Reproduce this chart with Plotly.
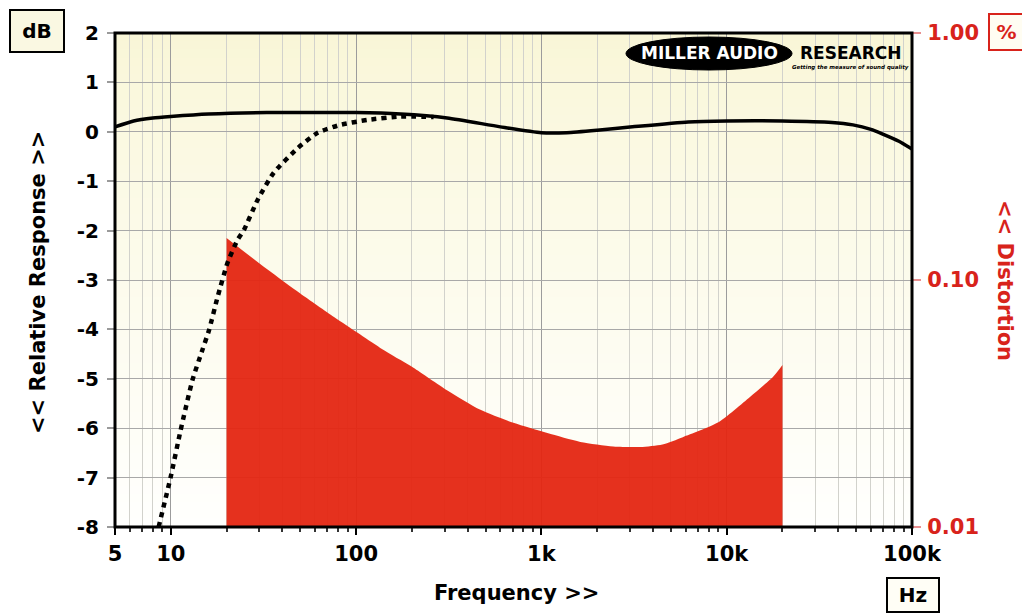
import plotly.graph_objects as go

# ---------------- data ----------------
# Frequency response (solid)
freq_resp = [5, 6.3, 8, 10, 16, 33, 60, 100, 174, 310, 600, 1000, 1370, 2000,
             3100, 6200, 10000, 20000, 37000, 48000, 60000, 69000, 85000, 100000]
resp_db = [0.10, 0.22, 0.28, 0.31, 0.36, 0.39, 0.39, 0.39, 0.36, 0.28, 0.10, -0.02,
           -0.02, 0.03, 0.10, 0.20, 0.22, 0.22, 0.19, 0.14, 0.05, -0.04, -0.19, -0.35]

# Response with subsonic filter (dotted)
freq_hp = [8.6, 10, 11.3, 13.1, 14.8, 16.1, 17.9, 20.2, 22.9, 24.8, 29.4, 35.9,
           48.4, 62, 82, 115, 174, 262]
hp_db = [-8.0, -6.98, -6.04, -5.02, -4.42, -4.01, -3.34, -2.66, -2.19, -1.99,
         -1.38, -0.83, -0.33, -0.02, 0.14, 0.24, 0.31, 0.30]

# Distortion (%), red area
freq_thd = [20, 33, 50, 76, 102, 135, 174, 204, 311, 469, 706, 1077, 1622, 2444,
            3420, 4500, 5800, 8900, 13400, 17800, 20000]
thd_pct = [0.148, 0.1107, 0.0881, 0.0708, 0.0611, 0.0531, 0.0474, 0.0441, 0.0357,
           0.0298, 0.0264, 0.0240, 0.0221, 0.0212, 0.0211, 0.0216, 0.0231, 0.0264,
           0.0337, 0.0406, 0.0453]
thd_floor = 0.01

# Axis ticks
x_major = [5, 10, 100, 1000, 10000, 100000]
x_major_text = ["5", "10", "100", "1k", "10k", "100k"]
db_ticks = [2, 1, 0, -1, -2, -3, -4, -5, -6, -7, -8]
pct_ticks = [0.01, 0.1, 1.0]
pct_text = ["0.01", "0.10", "1.00"]

x_minor = [m * 10 ** d for d in range(0, 5) for m in range(2, 10)
           if 5 < m * 10 ** d < 100000 and m * 10 ** d not in x_major]

FONT = "DejaVu Sans"
RED = "#D8231B"
FILL = "rgba(228,38,18,0.95)"

fig = go.Figure()

# Distortion area (primary y, log, right side): baseline + curve filled between
fig.add_trace(go.Scatter(
    x=[freq_thd[0], freq_thd[-1]], y=[thd_floor, thd_floor], mode="lines",
    line=dict(width=0, color="rgba(0,0,0,0)"), hoverinfo="skip",
    showlegend=False, xaxis="x", yaxis="y"))
fig.add_trace(go.Scatter(
    x=freq_thd, y=thd_pct, fill="tonexty", fillcolor=FILL, mode="lines",
    line=dict(width=0, color=FILL, shape="spline", smoothing=0.7),
    hoverinfo="skip", showlegend=False, xaxis="x", yaxis="y"))

# Dotted response
fig.add_trace(go.Scatter(
    x=freq_hp, y=hp_db, mode="lines",
    line=dict(color="black", width=4.5, dash="5px,5px", shape="spline", smoothing=0.5),
    showlegend=False, xaxis="x", yaxis="y2"))

# Solid response
fig.add_trace(go.Scatter(
    x=freq_resp, y=resp_db, mode="lines",
    line=dict(color="black", width=3.5, shape="spline", smoothing=0.6),
    showlegend=False, xaxis="x", yaxis="y2"))

# ---------------- background gradient ----------------
shapes = []
n = 60
top = (249, 246, 214)
bot = (255, 255, 253)
for i in range(n):
    t = (i + 0.5) / n
    tt = t ** 0.8
    c = tuple(round(top[k] + (bot[k] - top[k]) * tt) for k in range(3))
    shapes.append(dict(type="rect", xref="x domain", yref="y domain",
                       x0=0, x1=1, y0=1 - i / n, y1=1 - (i + 1) / n - 0.002,
                       fillcolor="rgb(%d,%d,%d)" % c, line=dict(width=0),
                       layer="below"))

# frame
shapes.append(dict(type="rect", xref="x domain", yref="y domain", x0=0, x1=1,
                   y0=0, y1=1, line=dict(color="black", width=3),
                   fillcolor="rgba(0,0,0,0)", layer="above"))


def px(xp):
    return (xp - 115) / 797


def py(yp):
    return (527 - yp) / 494


# logo ellipse
shapes.append(dict(type="circle", xref="paper", yref="paper",
                   x0=px(626), x1=px(792), y0=py(70), y1=py(37),
                   fillcolor="black", line=dict(color="black", width=1),
                   layer="above"))


def ann(text, x, y, size, color, **kw):
    d = dict(text=text, x=px(x), y=py(y), xref="paper", yref="paper",
             showarrow=False, xanchor="center", yanchor="middle",
             font=dict(family=FONT, size=size, color=color, weight="bold"))
    d.update(kw)
    return d


annotations = [
    ann("dB", 37, 31, 20, "black", bordercolor="black", borderwidth=2,
        bgcolor="#FAF8E2", width=50, height=38),
    ann("%", 1007, 32, 20, RED, bordercolor=RED, borderwidth=2,
        bgcolor="#FFFDF2", width=31, height=32),
    ann("Hz", 913, 595, 20, "black", bordercolor="black", borderwidth=2,
        bgcolor="#FFFEF6", width=48, height=30),
    ann("<< Relative Response >>", 38, 283, 21, "black", textangle=-90),
    ann("<< Distortion", 1005, 280, 21, RED, textangle=90),
    ann("Frequency >>", 517, 593, 21, "black"),
    ann("MILLER AUDIO", 709, 53, 17, "white"),
    ann("RESEARCH", 851, 53, 17, "black"),
    ann("<i>Getting the measure of sound quality</i>", 850, 68, 5.5, "black"),
]

fig.update_layout(
    width=1022, height=605,
    margin=dict(l=107, r=118, t=25, b=86, autoexpand=False),
    paper_bgcolor="white", plot_bgcolor="white",
    shapes=shapes, annotations=annotations,
    showlegend=False,
    xaxis=dict(
        type="log", range=[0.69897, 5], tickmode="array",
        tickvals=x_major, ticktext=x_major_text, automargin=False,
        ticks="outside", ticklen=7, tickwidth=2, tickcolor="black",
        ticklabelstandoff=1,
        tickfont=dict(family=FONT, size=21, color="black", weight="bold"),
        showgrid=True, gridcolor="#9c9c9c", gridwidth=1,
        minor=dict(tickmode="array", tickvals=x_minor, ticks="outside",
                   ticklen=4, tickwidth=2, tickcolor="#333",
                   showgrid=True, gridcolor="#d2d2cc", gridwidth=1),
        showline=False, zeroline=False),
    yaxis=dict(
        type="log", range=[-2, 0], side="right", tickmode="array",
        tickvals=pct_ticks, ticktext=pct_text, automargin=False,
        ticks="outside", ticklen=8, tickwidth=2, tickcolor="#E99090",
        ticklabelstandoff=2,
        tickfont=dict(family=FONT, size=21, color=RED, weight="bold"),
        showgrid=False, zeroline=False, showline=False),
    yaxis2=dict(
        overlaying="y", side="left", range=[-8, 2], tickmode="array",
        tickvals=db_ticks, ticktext=[str(v) for v in db_ticks], automargin=False,
        ticks="outside", ticklen=7, tickwidth=2, tickcolor="#9a9a9a",
        ticklabelstandoff=4,
        tickfont=dict(family=FONT, size=20, color="black", weight="bold"),
        showgrid=True, gridcolor="#a8a8a8", gridwidth=1,
        zeroline=False, showline=False),
)

fig.write_html("out.html")
